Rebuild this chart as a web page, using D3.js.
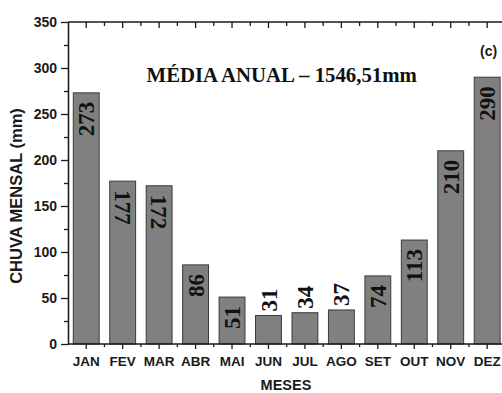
<!DOCTYPE html>
<html>
<head>
<meta charset="utf-8">
<script src="https://cdn.jsdelivr.net/npm/d3@7"></script>
<style>
  html, body { margin: 0; padding: 0; background: #fff; }
  svg { display: block; }
</style>
</head>
<body>
<div id="chart"></div>
<script>
// Monthly rainfall (mm)
const months = ["JAN", "FEV", "MAR", "ABR", "MAI", "JUN", "JUL", "AGO", "SET", "OUT", "NOV", "DEZ"];
const rainfall = [273, 177, 172, 86, 51, 31, 34, 37, 74, 113, 210, 290];
const yMajorTicks = [0, 50, 100, 150, 200, 250, 300, 350];
const yMinorTicks = [25, 75, 125, 175, 225, 275, 325];
// labels that read top-to-bottom instead of bottom-to-top
const downwardLabels = new Set(["FEV", "MAR"]);

const W = 502, H = 393;
const plotLeft = 68, plotTop = 22, plotBottom = 344;
const step = 36.45;

const svg = d3.select("#chart").append("svg")
  .attr("width", W).attr("height", H);

const x = d3.scaleBand()
  .domain(months)
  .range([plotLeft, plotLeft + step * months.length])
  .paddingInner(0.29)
  .paddingOuter(0.145);

const y = d3.scaleLinear().domain([0, 350]).range([plotBottom, plotTop]);

const sans = "'Liberation Sans', Arial, sans-serif";
const serif = "'Liberation Serif', 'Times New Roman', serif";
const ink = "#1a1a1a";

// bars
svg.append("g").selectAll("rect")
  .data(months)
  .join("rect")
  .attr("x", d => x(d))
  .attr("y", (d, i) => y(rainfall[i]))
  .attr("width", x.bandwidth())
  .attr("height", (d, i) => y(0) - y(rainfall[i]))
  .attr("fill", "#808080")
  .attr("stroke", "#3a3a3a")
  .attr("stroke-width", 1);

// value labels, rotated along the bars
const labelSize = 23;
const isInside = i => y(0) - y(rainfall[i]) > 45;
svg.append("g").selectAll("text")
  .data(months)
  .join("text")
  .attr("font-family", serif)
  .attr("font-weight", "bold")
  .attr("font-size", labelSize)
  .attr("fill", "#111")
  .attr("dy", "0.35em")
  .attr("transform", (d, i) => {
    const cx = x(d) + x.bandwidth() / 2;
    const v = rainfall[i];
    if (!isInside(i)) return `translate(${cx},${y(v) - 4}) rotate(-90)`;
    if (downwardLabels.has(d)) return `translate(${cx},${y(v) + 9}) rotate(90)`;
    return `translate(${cx},${y(v) + 9}) rotate(-90)`;
  })
  .attr("text-anchor", (d, i) => {
    if (!isInside(i)) return "start";
    return downwardLabels.has(d) ? "start" : "end";
  })
  .text((d, i) => rainfall[i]);

function styleAxis(g) {
  g.select(".domain").attr("stroke", ink).attr("stroke-width", 1.3);
  g.selectAll(".tick line").attr("stroke", ink).attr("stroke-width", 1.3);
  g.selectAll(".tick text")
    .attr("font-family", sans)
    .attr("font-weight", "bold")
    .attr("fill", ink);
}

// left axis
const yAxis = svg.append("g")
  .attr("transform", `translate(${plotLeft},0)`)
  .call(d3.axisLeft(y).tickValues(yMajorTicks).tickSize(7).tickPadding(4).tickSizeOuter(0));
styleAxis(yAxis);
yAxis.selectAll(".tick text").attr("font-size", 14);

const yMinor = svg.append("g")
  .attr("transform", `translate(${plotLeft},0)`)
  .call(d3.axisLeft(y).tickValues(yMinorTicks).tickSize(4).tickFormat("").tickSizeOuter(0));
styleAxis(yMinor);

// bottom axis
const xRight = W + 10;
const xAxis = svg.append("g")
  .attr("transform", `translate(0,${plotBottom})`)
  .call(d3.axisBottom(x).tickSize(5).tickPadding(7.5).tickSizeOuter(0));
styleAxis(xAxis);
xAxis.select(".domain").attr("d", `M${plotLeft},0H${xRight}`);
xAxis.selectAll(".tick text").attr("font-size", 13.5);

const boundaries = d3.range(months.length + 1).map(i => plotLeft + i * step);
svg.append("g").selectAll("line")
  .data(boundaries.slice(1))
  .join("line")
  .attr("x1", d => d).attr("x2", d => d)
  .attr("y1", plotBottom).attr("y2", plotBottom + 3)
  .attr("stroke", ink).attr("stroke-width", 1.3);

// top axis (ticks pointing inward, no labels)
const xTop = svg.append("g")
  .attr("transform", `translate(0,${plotTop})`)
  .call(d3.axisTop(x).tickSize(-6).tickFormat("").tickSizeOuter(0));
styleAxis(xTop);
xTop.select(".domain").attr("d", `M${plotLeft},0H${xRight}`);

svg.append("g").selectAll("line")
  .data(boundaries.slice(1))
  .join("line")
  .attr("x1", d => d).attr("x2", d => d)
  .attr("y1", plotTop).attr("y2", plotTop + 4)
  .attr("stroke", ink).attr("stroke-width", 1.3);

// axis titles
svg.append("text")
  .attr("transform", `translate(22,196) rotate(-90)`)
  .attr("text-anchor", "middle")
  .attr("font-family", sans)
  .attr("font-weight", "bold")
  .attr("font-size", 16.5)
  .attr("fill", ink)
  .text("CHUVA MENSAL (mm)");

svg.append("text")
  .attr("x", 286).attr("y", 390)
  .attr("text-anchor", "middle")
  .attr("font-family", sans)
  .attr("font-weight", "bold")
  .attr("font-size", 14.5)
  .attr("fill", ink)
  .text("MESES");

// annual mean annotation
svg.append("text")
  .attr("x", 146.5).attr("y", 81.5)
  .attr("font-family", serif)
  .attr("font-weight", "bold")
  .attr("font-size", 20.8)
  .attr("fill", "#111")
  .text("MÉDIA ANUAL – 1546,51mm");

// panel tag
svg.append("text")
  .attr("x", 480).attr("y", 56)
  .attr("font-family", sans)
  .attr("font-weight", "bold")
  .attr("font-size", 14)
  .attr("fill", ink)
  .text("(c)");
</script>
</body>
</html>
